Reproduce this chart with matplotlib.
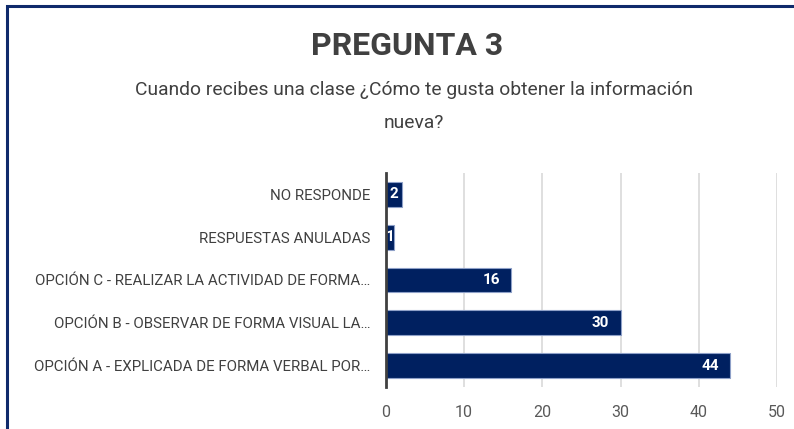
import matplotlib.pyplot as plt
from matplotlib.patches import Rectangle

categorias = [
    'OPCIÓN A - EXPLICADA DE FORMA VERBAL POR…',
    'OPCIÓN B - OBSERVAR DE FORMA VISUAL LA…',
    'OPCIÓN C - REALIZAR LA ACTIVIDAD DE FORMA…',
    'RESPUESTAS ANULADAS',
    'NO RESPONDE',
]
valores = [44, 30, 16, 1, 2]
ticks_x = [0, 10, 20, 30, 40, 50]

plt.rcParams['font.family'] = ['Roboto', 'DejaVu Sans']

fig = plt.figure(figsize=(7.94, 4.29), dpi=100)
ax = fig.add_axes([0.486, 0.098, 0.4925, 0.499])

pos = list(range(len(categorias)))
ax.barh(pos, valores, height=0.58, color='#002060', edgecolor='#8ea0c8', linewidth=0.8, zorder=3)

for p, v in zip(pos, valores):
    if v < 3:
        ax.text(v / 2, p, str(v), ha='center', va='center', color='white',
                fontsize=11, fontweight='bold', zorder=4)
    else:
        ax.annotate(str(v), (v, p), xytext=(-8, 0), textcoords='offset points',
                    ha='right', va='center', color='white', fontsize=11,
                    fontweight='bold', zorder=4)

ax.set_xlim(0, 50)
ax.set_ylim(-0.5, 4.5)
ax.set_xticks(ticks_x)
ax.set_yticks(pos)
ax.set_yticklabels(categorias, fontsize=10.8, color='#404040')
ax.tick_params(axis='both', length=0)
ax.tick_params(axis='y', pad=11)
ax.tick_params(axis='x', pad=13, labelsize=11.5, labelcolor='#595959')
ax.grid(axis='x', color='#d9d9d9', linewidth=1.2, zorder=0)
for s in ['top', 'right', 'bottom']:
    ax.spines[s].set_visible(False)
ax.spines['left'].set_color('#404040')
ax.spines['left'].set_linewidth(2)
ax.spines['left'].set_zorder(5)

fig.text(0.513, 0.893, 'PREGUNTA 3', ha='center', va='center', fontsize=23,
         fontweight='bold', color='#404040')
fig.text(0.521, 0.79, 'Cuando recibes una clase ¿Cómo te gusta obtener la información',
         ha='center', va='center', fontsize=13.9, color='#404040')
fig.text(0.521, 0.713, 'nueva?', ha='center', va='center', fontsize=13.9, color='#404040')

# marco azul (solo arriba e izquierda visibles)
fig.patches.append(Rectangle((0.009, -0.05), 1.1, 1.036, transform=fig.transFigure,
                             fill=False, edgecolor='#0f2a6b', linewidth=2.2))

fig.savefig('out.png', dpi=100)
